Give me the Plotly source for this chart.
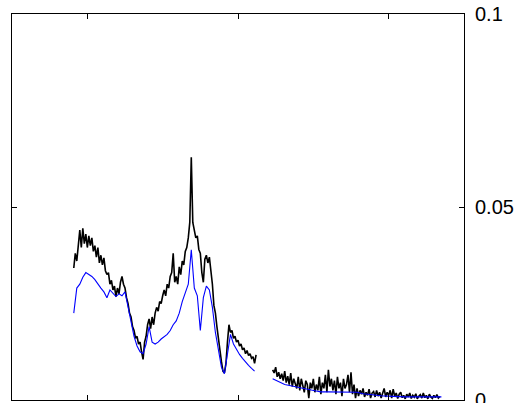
import numpy as np
import plotly.graph_objects as go

# Values are in units of 1e-4
black_seg1 = [342, 380, 360, 410, 440, 395, 445, 405, 430, 395, 425, 400, 420, 385, 400, 370,
              395, 355, 375, 350, 368, 335, 325, 330, 300, 310, 285, 295, 268, 290, 275, 305,
              320, 300, 290, 265, 250, 225, 215, 190, 180, 160, 165, 145, 150, 125, 105, 150,
              165, 195, 210, 185, 215, 195, 225, 240, 230, 255, 250, 270, 285, 270, 300, 290,
              320, 330, 380, 305, 320, 300, 345, 325, 360, 350, 385, 395, 420, 460, 629, 460,
              440, 420, 425, 390, 380, 330, 305, 365, 375, 355, 370, 335, 300, 245, 225, 190,
              165, 130, 100, 75, 70, 95, 150, 195, 175, 180, 160, 165, 150, 155, 140, 145,
              130, 135, 120, 128, 115, 120, 108, 112, 95, 117]
black_seg2 = [78, 70, 85, 60, 72, 55, 68, 50, 75, 45, 62, 40, 70, 35, 55, 45, 30, 60, 25, 55,
              35, 20, 50, 40, 5, 45, 30, 55, 20, 40, 25, 60, 15, 45, 30, 65, 20, 78, 35, 55,
              25, 50, 15, 60, 30, 45, 10, 55, 30, 40, 65, 20, 72, 15, 40, 5, 30, 10, 25, 15,
              30, 8, 20, 12, 28, 5, 18, 22, 8, 25, 10, 20, 5, 15, 30, 8, 20, 12, 25, 5,
              28, 10, 18, 4, 15, 20, 6, 12, 3, 15, 8, 18, 4, 12, 7, 16, 3, 10, 14, 5,
              18, 6, 12, 3, 15, 8, 4, 12, 6, 14, 5, 9]
blue_seg1 = [225, 290, 300, 318, 330, 325, 320, 312, 300, 290, 280, 265, 285, 275, 268, 275,
             270, 280, 240, 200, 165, 140, 125, 120, 145, 190, 150, 145, 150, 158, 163, 170,
             180, 195, 205, 225, 255, 280, 300, 389, 290, 270, 180, 265, 295, 285, 240, 175,
             135, 85, 68, 120, 170, 145, 130, 118, 108, 98, 90, 82, 75]
blue_seg2 = [55, 48, 40, 37, 33, 30, 27, 24, 21, 21, 21, 21, 21, 21, 20, 16, 14, 12, 11, 10,
             9, 8, 8, 8, 8, 8, 8, 8, 8]

x_black1 = -0.09 + 0.01 * np.arange(len(black_seg1))
x_black2 = 1.23 + 0.01 * np.arange(len(black_seg2))
x_blue1 = -0.09 + 0.02 * np.arange(len(blue_seg1))
x_blue2 = 1.23 + 0.04 * np.arange(len(blue_seg2))

scale = 1e-4

def join(xa, ya, xb, yb):
    xs = list(xa) + [None] + list(xb)
    ys = [v * scale for v in ya] + [None] + [v * scale for v in yb]
    return xs, ys

bx, by = join(x_black1, black_seg1, x_black2, black_seg2)
ux, uy = join(x_blue1, blue_seg1, x_blue2, blue_seg2)

x_ticks = [0, 1, 2]
y_ticks = [0, 0.05, 0.1]
y_tick_text = ["0", "0.05", "0.1"]

fig = go.Figure()
fig.add_trace(go.Scatter(x=bx, y=by, mode="lines", line=dict(color="#000000", width=1.6),
                         connectgaps=False, showlegend=False))
fig.add_trace(go.Scatter(x=ux, y=uy, mode="lines", line=dict(color="#0000ff", width=1.1),
                         connectgaps=False, showlegend=False))

fig.update_layout(
    width=518, height=403,
    margin=dict(l=12, r=54, t=14, b=3, autoexpand=False),
    paper_bgcolor="white", plot_bgcolor="white",
    font=dict(family="Liberation Sans, Arial, sans-serif", size=20, color="black"),
    xaxis=dict(range=[-0.5, 2.5], tickvals=x_ticks, showticklabels=False, ticks="inside",
               ticklen=5, tickcolor="black", showline=True, linecolor="black", linewidth=1,
               mirror="allticks", showgrid=False, zeroline=False),
    yaxis=dict(range=[0, 0.1], side="right", tickvals=y_ticks, ticktext=y_tick_text,
               ticks="inside", ticklen=5, tickcolor="black", showline=True, linecolor="black",
               linewidth=1, mirror="allticks", showgrid=False, zeroline=False,
               ticklabelstandoff=6, automargin=False, ticklabeloverflow="allow"),
)

fig.write_html("out.html", config={"displayModeBar": False})

# remove the browser's default page margin so the figure sits at the window's corner
with open("out.html", "r", encoding="utf-8") as f:
    html = f.read()
html = html.replace("<body>", '<body style="margin:0;padding:0;overflow:hidden">', 1)
with open("out.html", "w", encoding="utf-8") as f:
    f.write(html)
